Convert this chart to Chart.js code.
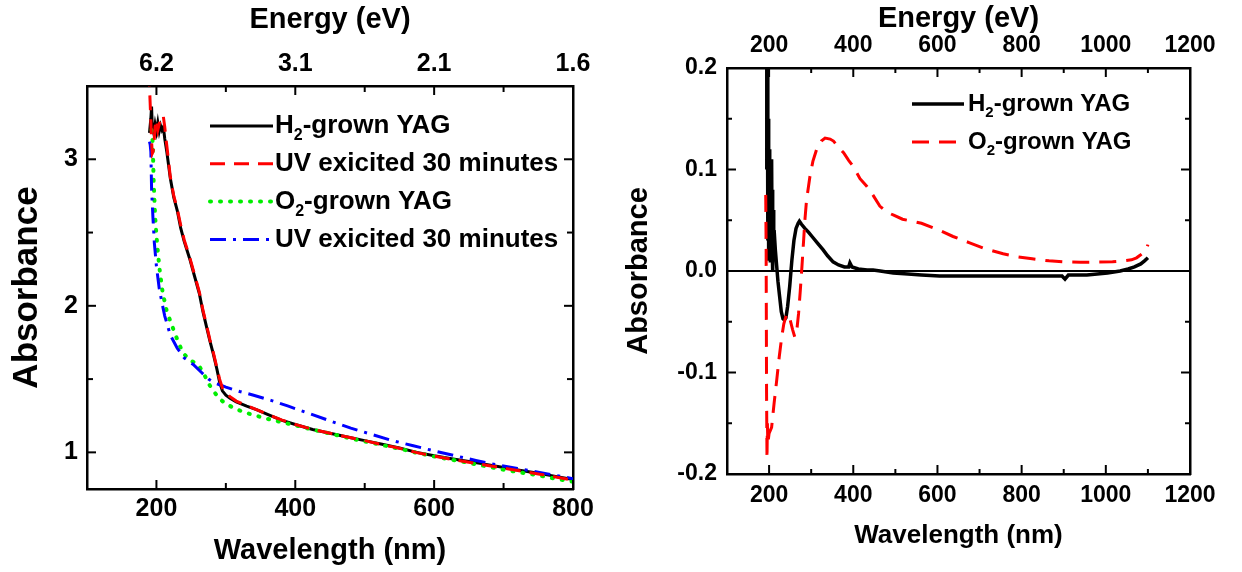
<!DOCTYPE html>
<html>
<head>
<meta charset="utf-8">
<script src="https://cdn.jsdelivr.net/npm/chart.js@4.4.1/dist/chart.umd.min.js"></script>
<style>
  html, body { margin: 0; padding: 0; background: #fff; }
  #wrap { position: relative; width: 1242px; height: 572px; }
  .panel { position: absolute; top: 0; height: 572px; }
  #leftBox { left: 0; width: 620px; }
  #rightBox { left: 620px; width: 622px; }
</style>
</head>
<body>
<div id="wrap">
  <div class="panel" id="leftBox"><canvas id="absLeft" width="620" height="572"></canvas></div>
  <div class="panel" id="rightBox"><canvas id="absRight" width="622" height="572"></canvas></div>
</div>
<script>
// ---- left panel: absorbance spectra (nm) ----
const h2Wl = [190, 192, 193, 194, 196, 198, 200, 202, 204, 206, 208, 210, 212, 215, 220, 225, 230, 235, 240, 248,
  255, 262, 267, 272, 277, 282, 287, 291, 295, 300, 306, 315, 330, 345, 360, 380, 400, 425, 450, 475,
  500, 525, 550, 575, 600, 625, 650, 675, 700, 725, 750, 775, 800];
const h2Abs = [3.18, 3.28, 3.36, 3.22, 3.18, 3.24, 3.19, 3.25, 3.19, 3.23, 3.2, 3.22, 3.14, 3.05, 2.87, 2.74, 2.65, 2.53, 2.44, 2.32,
  2.2, 2.08, 1.96, 1.86, 1.76, 1.67, 1.57, 1.48, 1.42, 1.39, 1.37, 1.345, 1.315, 1.29, 1.26, 1.22, 1.19, 1.156, 1.13, 1.105,
  1.08, 1.055, 1.03, 1.0, 0.977, 0.957, 0.937, 0.918, 0.897, 0.876, 0.857, 0.836, 0.815];

const h2UvWl = [189, 190, 191, 192, 193, 194, 195, 196, 198, 200, 202, 204, 206, 208, 210, 212, 214, 216, 220, 225,
  230, 235, 240, 248, 255, 262, 267, 272, 277, 282, 287, 291, 295, 300, 306, 315, 330, 345, 360, 380,
  400, 425, 450, 475, 500, 525, 550, 575, 600, 625, 650, 675, 700, 725, 750, 775, 800];
const h2UvAbs = [3.6, 3.5, 3.38, 3.25, 3.12, 3.04, 3.05, 3.08, 3.22, 3.27, 3.2, 3.24, 3.28, 3.3, 3.29, 3.22, 3.13, 3.05, 2.88, 2.75,
  2.66, 2.55, 2.45, 2.33, 2.21, 2.09, 1.97, 1.87, 1.77, 1.68, 1.58, 1.5, 1.44, 1.405, 1.38, 1.35, 1.32, 1.29, 1.26, 1.222,
  1.19, 1.157, 1.13, 1.105, 1.08, 1.053, 1.028, 0.998, 0.975, 0.952, 0.932, 0.912, 0.892, 0.872, 0.852, 0.832, 0.81];

const o2Wl = [193, 194, 195, 196, 198, 200, 202, 205, 209, 215, 222, 230, 238, 248, 260, 268, 275, 282, 290, 300,
  313, 325, 340, 355, 370, 400, 425, 450, 475, 500, 525, 550, 575, 600, 625, 650, 675, 700, 725, 750, 775, 800];
const o2Abs = [3.2, 3.18, 3.05, 2.85, 2.62, 2.48, 2.37, 2.23, 2.09, 1.96, 1.87, 1.77, 1.68, 1.63, 1.6, 1.54, 1.47, 1.42, 1.37, 1.33,
  1.3, 1.275, 1.255, 1.235, 1.217, 1.185, 1.155, 1.128, 1.1, 1.075, 1.05, 1.025, 0.997, 0.972, 0.95, 0.928, 0.905, 0.882, 0.862, 0.843, 0.82, 0.8];

const o2UvWl = [190, 191, 192, 193, 195, 197, 200, 204, 208, 212, 220, 230, 240, 253, 265, 275, 285, 292, 300, 320,
  340, 365, 390, 420, 450, 480, 512, 540, 570, 600, 632, 660, 690, 720, 750, 775, 800];
const o2UvAbs = [3.12, 3.1, 3.05, 2.8, 2.6, 2.43, 2.27, 2.12, 2.02, 1.93, 1.8, 1.71, 1.645, 1.6, 1.545, 1.5, 1.47, 1.46, 1.445, 1.415,
  1.39, 1.355, 1.315, 1.265, 1.215, 1.165, 1.12, 1.08, 1.045, 1.01, 0.975, 0.945, 0.915, 0.89, 0.865, 0.843, 0.82];

// ---- right panel: difference spectra ----
const h2DiffWl = [193, 194, 195, 196, 197, 198, 199, 200, 201, 202, 203, 204, 205, 206, 207, 208, 209, 210, 211, 212,
  215, 218, 221, 225, 229, 233, 236, 240, 244, 249, 254, 259, 264, 269, 272, 277, 285, 294, 304, 316,
  328, 339, 352, 365, 379, 389, 392, 397, 412, 433, 447, 464, 495, 530, 562, 605, 655, 705, 756, 806,
  856, 896, 903, 911, 955, 1004, 1034, 1053, 1068, 1083, 1092, 1100];
const h2DiffAbs = [0.10, 0.21, 0.12, 0.20, 0.03, 0.15, 0.01, 0.12, 0.02, 0.10, 0.01, 0.09, 0.02, 0.11, 0.03, 0.08, 0.0, 0.06, 0.01, 0.04,
  0.02, 0.005, -0.01, -0.025, -0.04, -0.047, -0.048, -0.046, -0.035, -0.015, 0.01, 0.03, 0.042, 0.047, 0.049, 0.046, 0.042, 0.038, 0.033, 0.027,
  0.021, 0.015, 0.009, 0.006, 0.004, 0.004, 0.008, 0.004, 0.002, 0.001, 0.001, 0.0, -0.002, -0.003, -0.004, -0.005, -0.005, -0.005, -0.005, -0.005,
  -0.005, -0.005, -0.008, -0.004, -0.004, -0.002, 0.0, 0.002, 0.004, 0.007, 0.01, 0.013];

const o2DiffWl = [192, 193, 194, 195, 196, 197, 200, 206, 212, 218, 224, 230, 235, 242, 250, 256, 261, 266, 270, 274,
  278, 282, 285, 289, 297, 304, 313, 324, 333, 345, 353, 365, 377, 389, 400, 416, 432, 448, 463, 480,
  496, 517, 562, 605, 637, 675, 713, 756, 790, 825, 865, 905, 940, 974, 1016, 1043, 1061, 1073, 1083, 1092, 1097, 1100];
const o2DiffAbs = [0.075, 0.02, -0.12, -0.185, -0.15, -0.17, -0.16, -0.154, -0.13, -0.108, -0.085, -0.065, -0.052, -0.042, -0.048, -0.058, -0.065, -0.058, -0.042, -0.02,
  0.004, 0.03, 0.05, 0.07, 0.093, 0.108, 0.12, 0.128, 0.131, 0.13, 0.128, 0.122, 0.1165, 0.109, 0.103, 0.091, 0.0835, 0.074, 0.064, 0.058,
  0.055, 0.051, 0.047, 0.04, 0.034, 0.028, 0.022, 0.017, 0.014, 0.012, 0.01, 0.009, 0.0086, 0.0088, 0.0092, 0.01, 0.011, 0.013, 0.016, 0.019, 0.022, 0.026];

// ---- tick labels ----
const leftWlTicks = [200, 400, 600, 800];
const leftWlLabels = ['200', '400', '600', '800'];
const energyLabels = ['6.2', '3.1', '2.1', '1.6'];
const leftAbsTicks = [1, 2, 3];
const leftAbsLabels = ['1', '2', '3'];
const rightWlTicks = [200, 400, 600, 800, 1000, 1200];
const rightWlLabels = ['200', '400', '600', '800', '1000', '1200'];
const rightAbsTicks = [-0.2, -0.1, 0, 0.1, 0.2];
const rightAbsLabels = ['-0.2', '-0.1', '0.0', '0.1', '0.2'];

const FONT = '"Liberation Sans", Arial, sans-serif';
Chart.defaults.font.family = FONT;
Chart.defaults.font.weight = 'bold';
Chart.defaults.color = '#000';

const pts = (xs, ys) => xs.map((x, i) => ({ x: x, y: ys[i] }));
const pick = (v, vals, labels) => {
  const i = vals.findIndex(t => Math.abs(t - v) < 1e-6);
  return i < 0 ? '' : labels[i];
};
const steps = (a, b, d) => { const out = []; for (let v = a; v <= b + d / 1000; v += d) out.push({ value: +v.toFixed(4) }); return out; };
const BORDER = { display: true, width: 2.5, color: '#000' };

// inward tick marks on all four sides
const inTicks = {
  id: 'inTicks',
  afterDraw(chart, args, o) {
    const { ctx, chartArea: a } = chart;
    ctx.save();
    ctx.strokeStyle = '#000';
    ctx.lineWidth = 2;
    Object.values(chart.scales).forEach(s => {
      s.ticks.forEach(t => {
        const len = t.label !== '' ? o.major : o.minor;
        const p = s.getPixelForValue(t.value);
        ctx.beginPath();
        if (s.position === 'bottom') { ctx.moveTo(p, a.bottom); ctx.lineTo(p, a.bottom - len); }
        else if (s.position === 'top') { ctx.moveTo(p, a.top); ctx.lineTo(p, a.top + len); }
        else if (s.position === 'left') { ctx.moveTo(a.left, p); ctx.lineTo(a.left + len, p); }
        else { ctx.moveTo(a.right, p); ctx.lineTo(a.right - len, p); }
        ctx.stroke();
      });
    });
    ctx.restore();
  }
};

// legend with line samples and real subscripts
const lineLegend = {
  id: 'lineLegend',
  afterDraw(chart, args, o) {
    const ctx = chart.ctx;
    ctx.save();
    chart.data.datasets.forEach((ds, i) => {
      const y = o.top + i * o.step;
      ctx.strokeStyle = ds.borderColor;
      ctx.lineWidth = ds.borderWidth;
      ctx.lineCap = ds.borderCapStyle || 'butt';
      ctx.setLineDash(ds.borderDash || []);
      ctx.beginPath();
      ctx.moveTo(o.left, y);
      ctx.lineTo(o.left + o.len, y);
      ctx.stroke();
      ctx.setLineDash([]);
      ctx.fillStyle = '#000';
      ctx.textAlign = 'left';
      ctx.textBaseline = 'middle';
      let x = o.left + o.len + o.gap;
      const parts = ds.label.split('₂');
      ctx.font = `bold ${o.size}px ${FONT}`;
      ctx.fillText(parts[0], x, y);
      x += ctx.measureText(parts[0]).width;
      if (parts.length > 1) {
        ctx.font = `bold ${Math.round(o.size * 0.62)}px ${FONT}`;
        ctx.fillText('2', x, y + o.size * 0.38);
        x += ctx.measureText('2').width;
        ctx.font = `bold ${o.size}px ${FONT}`;
        ctx.fillText(parts[1], x, y);
      }
    });
    ctx.restore();
  }
};

const line = (label, xs, ys, color, dash, order, extra) => Object.assign({
  label: label, data: pts(xs, ys), borderColor: color, backgroundColor: color, borderWidth: 3,
  borderDash: dash, pointRadius: 0, tension: 0, fill: false, order: order
}, extra || {});

new Chart(document.getElementById('absLeft'), {
  type: 'line',
  data: {
    datasets: [
      line('H₂-grown YAG', h2Wl, h2Abs, '#000000', [], 3),
      line('UV exicited 30 minutes', h2UvWl, h2UvAbs, '#ff0000', [15, 9], 0),
      line('O₂-grown YAG', o2Wl, o2Abs, '#00ee00', [1, 9], 2, { borderCapStyle: 'round', borderWidth: 4 }),
      line('UV exicited 30 minutes', o2UvWl, o2UvAbs, '#0000ff', [16, 7, 3, 7], 1)
    ]
  },
  plugins: [inTicks, lineLegend],
  options: {
    responsive: false, animation: false, devicePixelRatio: 1,
    layout: { padding: 0 },
    scales: {
      x: {
        type: 'linear', position: 'bottom', min: 100, max: 800,
        afterBuildTicks: s => { s.ticks = steps(200, 800, 100); },
        afterFit: s => { s.height = 83; },
        grid: { display: false, drawTicks: false }, border: BORDER,
        ticks: { padding: 5, autoSkip: false, maxRotation: 0, font: { size: 25 }, callback: v => pick(v, leftWlTicks, leftWlLabels) },
        title: { display: true, text: 'Wavelength (nm)', font: { size: 29 }, padding: { top: 0, bottom: 4 } }
      },
      x2: {
        type: 'linear', position: 'top', min: 100, max: 800,
        afterBuildTicks: s => { s.ticks = steps(200, 800, 100); },
        afterFit: s => { s.height = 86; },
        grid: { display: false, drawTicks: false }, border: BORDER,
        ticks: { padding: 7, autoSkip: false, maxRotation: 0, font: { size: 25 }, callback: v => pick(v, leftWlTicks, energyLabels) },
        title: { display: true, text: 'Energy (eV)', font: { size: 29 }, padding: { top: 3, bottom: 0 } }
      },
      y: {
        type: 'linear', position: 'left', min: 0.75, max: 3.5,
        afterBuildTicks: s => { s.ticks = steps(1, 3, 0.5); },
        afterFit: s => { s.width = 87; },
        grid: { display: false, drawTicks: false }, border: BORDER,
        ticks: { padding: 9, font: { size: 25 }, callback: v => pick(v, leftAbsTicks, leftAbsLabels) },
        title: { display: true, text: 'Absorbance', font: { size: 35 }, padding: { top: 6, bottom: 0 } }
      },
      y2: {
        type: 'linear', position: 'right', min: 0.75, max: 3.5,
        afterBuildTicks: s => { s.ticks = steps(1, 3, 0.5); },
        afterFit: s => { s.width = 47; },
        grid: { display: false, drawTicks: false }, border: BORDER,
        ticks: { display: false, callback: v => pick(v, leftAbsTicks, leftAbsLabels) }
      }
    },
    plugins: {
      legend: { display: false }, tooltip: { enabled: false },
      inTicks: { major: 9, minor: 6 },
      lineLegend: { left: 210, len: 63, gap: 2, top: 126, step: 37.8, size: 26 }
    }
  }
});

new Chart(document.getElementById('absRight'), {
  type: 'line',
  data: {
    datasets: [
      line('H₂-grown YAG', h2DiffWl, h2DiffAbs, '#000000', [], 1, { borderWidth: 3.5 }),
      line('O₂-grown YAG', o2DiffWl, o2DiffAbs, '#ff0000', [17, 10], 0)
    ]
  },
  plugins: [inTicks, lineLegend],
  options: {
    responsive: false, animation: false, devicePixelRatio: 1,
    layout: { padding: 0 },
    scales: {
      x: {
        type: 'linear', position: 'bottom', min: 100, max: 1200,
        afterBuildTicks: s => { s.ticks = steps(200, 1200, 100); },
        afterFit: s => { s.height = 98; },
        grid: { display: false, drawTicks: false }, border: BORDER,
        ticks: { padding: 8, autoSkip: false, maxRotation: 0, font: { size: 23 }, callback: v => pick(v, rightWlTicks, rightWlLabels) },
        title: { display: true, text: 'Wavelength (nm)', font: { size: 26 }, padding: { top: 0, bottom: 21 } }
      },
      x2: {
        type: 'linear', position: 'top', min: 100, max: 1200,
        afterBuildTicks: s => { s.ticks = steps(200, 1200, 100); },
        afterFit: s => { s.height = 68; },
        grid: { display: false, drawTicks: false }, border: BORDER,
        ticks: { padding: 9, autoSkip: false, maxRotation: 0, font: { size: 23 }, callback: v => pick(v, rightWlTicks, rightWlLabels) },
        title: { display: true, text: 'Energy (eV)', font: { size: 29 }, padding: { top: 2, bottom: 0 } }
      },
      y: {
        type: 'linear', position: 'left', min: -0.2, max: 0.2,
        afterBuildTicks: s => { s.ticks = steps(-0.2, 0.2, 0.05); },
        afterFit: s => { s.width = 107; },
        grid: {
          display: true, drawTicks: false, drawOnChartArea: true, lineWidth: 2,
          color: c => (c.tick && Math.abs(c.tick.value) < 1e-9 ? '#000' : 'rgba(0,0,0,0)')
        },
        border: BORDER,
        ticks: { padding: 10, font: { size: 23 }, callback: v => pick(v, rightAbsTicks, rightAbsLabels) },
        title: { display: true, text: 'Absorbance', font: { size: 29 }, padding: { top: 2, bottom: 0 } }
      },
      y2: {
        type: 'linear', position: 'right', min: -0.2, max: 0.2,
        afterBuildTicks: s => { s.ticks = steps(-0.2, 0.2, 0.05); },
        afterFit: s => { s.width = 52; },
        grid: { display: false, drawTicks: false }, border: BORDER,
        ticks: { display: false, callback: v => pick(v, rightAbsTicks, rightAbsLabels) }
      }
    },
    plugins: {
      legend: { display: false }, tooltip: { enabled: false },
      inTicks: { major: 9, minor: 5 },
      lineLegend: { left: 292, len: 52, gap: 4, top: 104, step: 38, size: 24 }
    }
  }
});
</script>
</body>
</html>
